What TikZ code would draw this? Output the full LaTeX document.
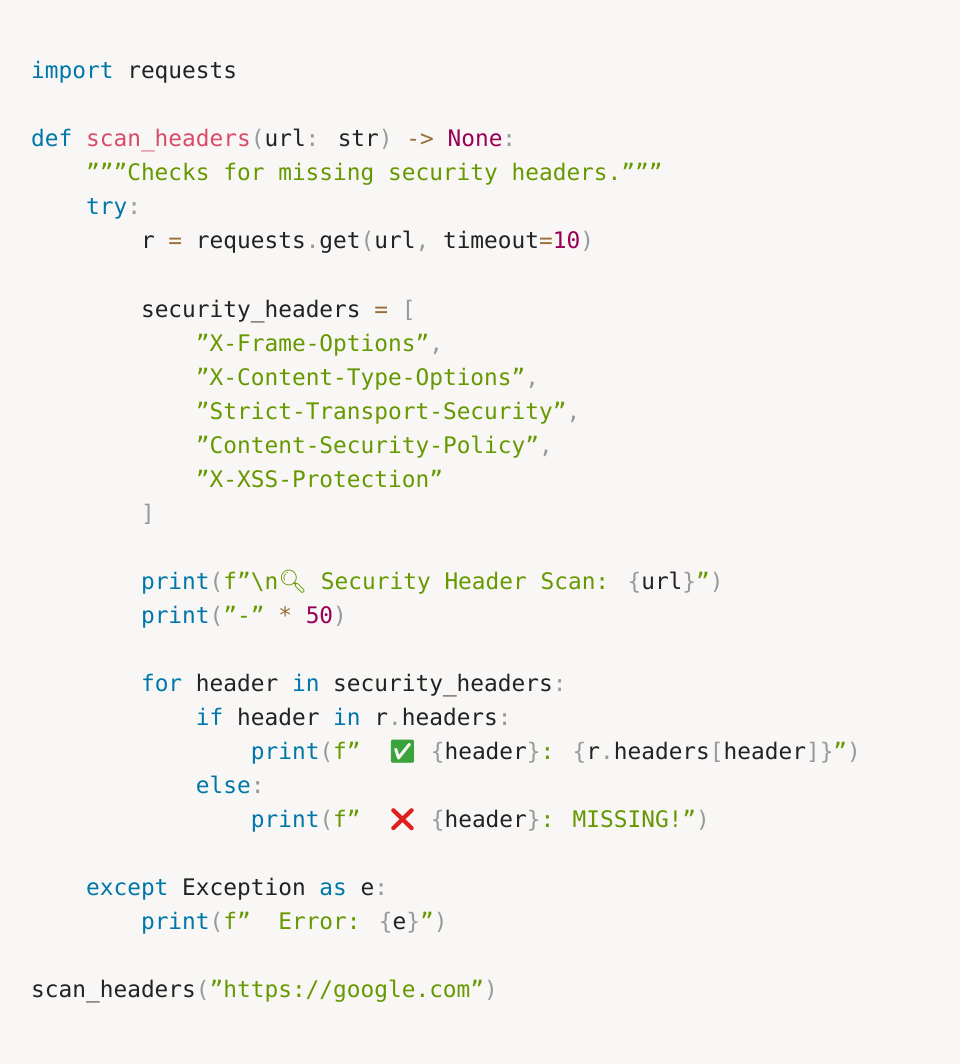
\documentclass[tikz,border=0pt]{standalone}
\usepackage{fontspec}
\setmainfont{DejaVu Sans Mono}[Ligatures={NoCommon}]
\newfontfamily\emo{Noto Emoji}
\definecolor{bg}{HTML}{F8F7F5}
\definecolor{kw}{HTML}{0077AA}
\definecolor{fn}{HTML}{DD4A68}
\definecolor{num}{HTML}{990055}
\definecolor{str}{HTML}{669900}
\definecolor{pun}{HTML}{999999}
\definecolor{op}{HTML}{9A6E3A}
\definecolor{txt}{HTML}{222222}
\definecolor{okg}{HTML}{3BA33B}
\definecolor{bad}{HTML}{E0201E}
\newcommand\Kw[1]{{\color{kw}#1}}
\newcommand\Fn[1]{{\color{fn}#1}}
\newcommand\Nm[1]{{\color{num}#1}}
\newcommand\St[1]{{\color{str}#1}}
\newcommand\Pu[1]{{\color{pun}#1}}
\newcommand\Op[1]{{\color{op}#1}}
\tikzset{codeline/.style={anchor=base west,inner sep=0pt,text=txt,font=\fontsize{22.8}{34}\selectfont}}
\begin{document}
\begin{tikzpicture}[x=1pt,y=-1pt]
\fill[bg] (0,0) rectangle (960,1064);
\useasboundingbox (0,0) rectangle (960,1064);
\def\cw{13.73}
\newcommand\cl[4]{\node[codeline] (#1) at ({31+#2*\cw},{79+34*#3}) {#4};}
\cl{l0}{0}{0}{\Kw{import} requests}
\cl{l2}{0}{2}{\Kw{def} \Fn{scan\_headers}\Pu{(}url\Pu{:} str\Pu{)} \Op{->} \Nm{None}\Pu{:}}
\cl{l3}{4}{3}{\St{"""Checks for missing security headers."""}}
\cl{l4}{4}{4}{\Kw{try}\Pu{:}}
\cl{l5}{8}{5}{r \Op{=} requests\Pu{.}get\Pu{(}url\Pu{,} timeout\Op{=}\Nm{10}\Pu{)}}
\cl{l7}{8}{7}{security\_headers \Op{=} \Pu{[}}
\cl{l8}{12}{8}{\St{"X-Frame-Options"}\Pu{,}}
\cl{l9}{12}{9}{\St{"X-Content-Type-Options"}\Pu{,}}
\cl{l10}{12}{10}{\St{"Strict-Transport-Security"}\Pu{,}}
\cl{l11}{12}{11}{\St{"Content-Security-Policy"}\Pu{,}}
\cl{l12}{12}{12}{\St{"X-XSS-Protection"}}
\cl{l13}{8}{13}{\Pu{]}}
\cl{l15}{8}{15}{\Kw{print}\Pu{(}\St{f"\textbackslash n{\emo 🔍} Security Header Scan: }\Pu{\{}url\Pu{\}}\St{"}\Pu{)}}
\cl{l16}{8}{16}{\Kw{print}\Pu{(}\St{"-"} \Op{*} \Nm{50}\Pu{)}}
\cl{l18}{8}{18}{\Kw{for} header \Kw{in} security\_headers\Pu{:}}
\cl{l19}{12}{19}{\Kw{if} header \Kw{in} r\Pu{.}headers\Pu{:}}
\cl{l20}{16}{20}{\Kw{print}\Pu{(}\St{f"~~{\emo\color{okg}✅}~}\Pu{\{}header\Pu{\}}\St{: }\Pu{\{}r\Pu{.}headers\Pu{[}header\Pu{]}\Pu{\}}\St{"}\Pu{)}}
\cl{l21}{12}{21}{\Kw{else}\Pu{:}}
\cl{l22}{16}{22}{\Kw{print}\Pu{(}\St{f"~~{\emo\color{bad}❌}~}\Pu{\{}header\Pu{\}}\St{: MISSING!"}\Pu{)}}
\cl{l24}{4}{24}{\Kw{except} Exception \Kw{as} e\Pu{:}}
\cl{l25}{8}{25}{\Kw{print}\Pu{(}\St{f"~~Error: }\Pu{\{}e\Pu{\}}\St{"}\Pu{)}}
\cl{l27}{0}{27}{scan\_headers\Pu{(}\St{"https://google.com"}\Pu{)}}
\end{tikzpicture}
\end{document}
